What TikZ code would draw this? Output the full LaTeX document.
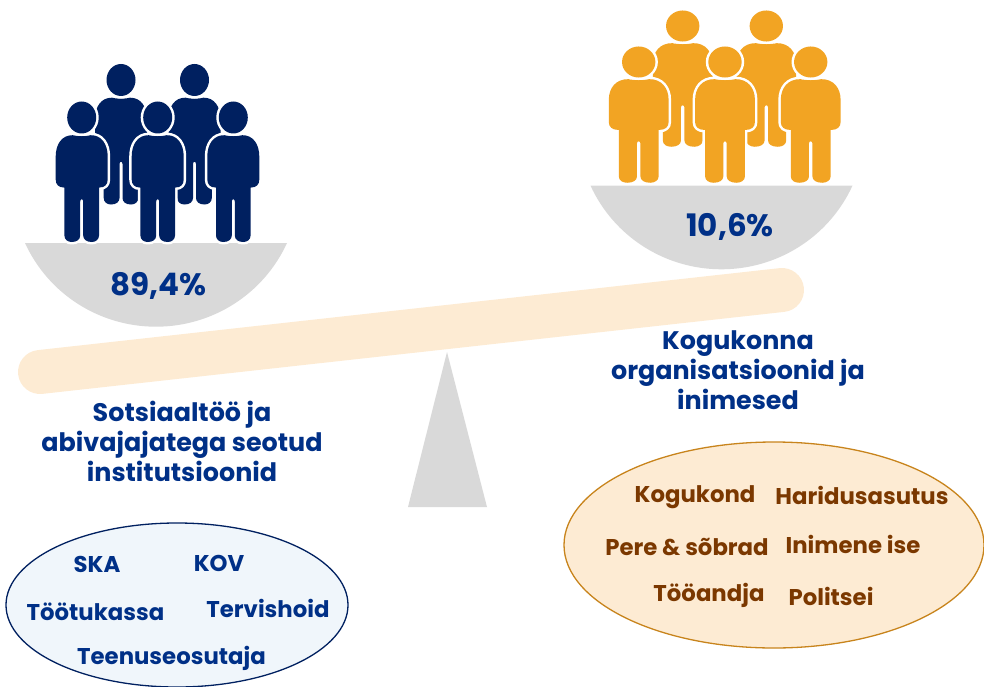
\documentclass[tikz,border=0pt]{standalone}
\usepackage{fontspec}
\setmainfont{Poppins}
\definecolor{navy}{HTML}{002060}
\definecolor{txtblue}{HTML}{003087}
\definecolor{orangeF}{HTML}{F2A423}
\definecolor{beamC}{HTML}{FDEBD3}
\definecolor{greyC}{HTML}{D9D9D9}
\definecolor{brownT}{HTML}{7B3800}
\definecolor{paleblue}{HTML}{F0F6FB}
\definecolor{ochre}{HTML}{C8841C}
\newcommand\bodypath{(-9,17.7) .. controls (-5,19) and (5,19) .. (9,17.7)
 .. controls (20,17.5) and (26,27) .. (26,39) -- (26,62) .. controls (26,67) and (23,70) .. (18,70)
 -- (17.3,70) -- (17.3,118) .. controls (17.3,122) and (14,124.5) .. (10,124.5)
 .. controls (5,124.5) and (1.5,122) .. (1.5,118) -- (1.5,84) .. controls (1.5,81) and (-1.5,81) .. (-1.5,84)
 -- (-1.5,118) .. controls (-1.5,122) and (-5,124.5) .. (-10,124.5)
 .. controls (-14,124.5) and (-17.3,122) .. (-17.3,118) -- (-17.3,70) -- (-18,70)
 .. controls (-23,70) and (-26,67) .. (-26,62) -- (-26,39) .. controls (-26,27) and (-20,17.5) .. (-9,17.7) -- cycle}
\newcommand\figura[5]{%
 \begin{scope}[shift={(#1,#2)},xscale=#3,yscale=#4]
  \draw[white,line width=5pt,line join=round] \bodypath;
  \fill[#5] \bodypath;
  \draw[white,line width=5pt] (0,0) ellipse [x radius=14.5,y radius=16];
  \fill[#5] (0,0) ellipse [x radius=14.5,y radius=16];
 \end{scope}}
\newcommand\bowl[1]{%
 \fill[greyC,shift={(#1)}] (25,243) -- (287,243) .. controls (263.6,294.2) and (212.3,326.7) .. (156,326.7)
   .. controls (99.7,326.7) and (48.4,294.2) .. (25,243) -- cycle;}
\tikzset{
 x=1pt,y=-1pt,
 pct/.style={text=txtblue,font=\fontsize{31}{34}\selectfont\bfseries,inner sep=0pt},
 head/.style={text=txtblue,font=\fontsize{25.4}{30}\selectfont\bfseries,align=center,inner sep=0pt},
 itemB/.style={text=txtblue,font=\fontsize{22.8}{26}\selectfont\bfseries,inner sep=0pt},
 itemO/.style={text=brownT,font=\fontsize{22.8}{26}\selectfont\bfseries,inner sep=0pt},
}
\begin{document}
\begin{tikzpicture}
\useasboundingbox (0,0) rectangle (984,687);
\clip (0,0) rectangle (984,687);
% scale
\fill[greyC] (447,352) -- (487,507) -- (408,507) -- cycle;
\draw[beamC,line width=44pt,line cap=round] (40,372) -- (782,290);
% bowls
\bowl{0,0}
\bowl{565.5,-57.4}
% blue people
\figura{121}{80}{1}{1}{navy}
\figura{194.5}{80}{1}{1}{navy}
\figura{81.7}{117.5}{1}{1}{navy}
\figura{157.7}{117.5}{1}{1}{navy}
\figura{233.3}{117.5}{1}{1}{navy}
% orange people
\figura{682.7}{26}{1.15}{.97}{orangeF}
\figura{766.3}{26}{1.15}{.97}{orangeF}
\figura{638.7}{62}{1.15}{.97}{orangeF}
\figura{725}{62}{1.15}{.97}{orangeF}
\figura{810.7}{62}{1.15}{.97}{orangeF}
% ellipses
\draw[navy,fill=paleblue,line width=1.3pt] (177,605) ellipse [x radius=171,y radius=82];
\draw[ochre,fill=beamC,line width=1.3pt] (774,545) ellipse [x radius=210,y radius=103];
% texts
\node[pct] (p1) at (158.5,285.5) {89,4\%};
\node[pct] (p2) at (730,226.5) {10,6\%};
\node[head] (h1) at (182,441.5) {Sotsiaaltöö ja\\abivajajatega seotud\\institutsioonid};
\node[head] (h2) at (738,370.5) {Kogukonna\\organisatsioonid ja\\inimesed};
\node[itemB] (b1) at (97,564) {SKA};
\node[itemB] (b2) at (219,563) {KOV};
\node[itemB] (b3) at (95.5,612) {Töötukassa};
\node[itemB] (b4) at (268,608) {Tervishoid};
\node[itemB] (b5) at (171.5,658) {Teenuseosutaja};
\node[itemO] (o1) at (695,497) {Kogukond};
\node[itemO] (o2) at (862,495) {Haridusasutus};
\node[itemO] (o3) at (687,547) {Pere \& sõbrad};
\node[itemO] (o4) at (853,544) {Inimene ise};
\node[itemO] (o5) at (709,595) {Tööandja};
\node[itemO] (o6) at (831,596) {Politsei};
\end{tikzpicture}
\end{document}
